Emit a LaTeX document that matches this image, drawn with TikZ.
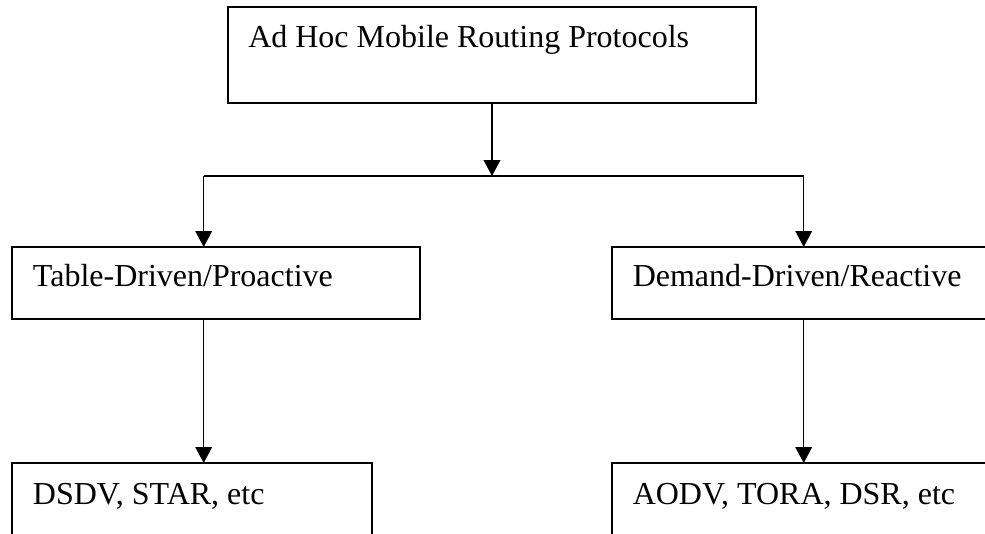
\documentclass[tikz,border=0pt]{standalone}
\usepackage{fontspec}
\setmainfont{Liberation Serif}
\usetikzlibrary{arrows.meta}
\begin{document}
\begin{tikzpicture}[x=0.75pt,y=-0.75pt,
  boxnode/.style={draw=black,line width=1.1pt,rectangle,inner sep=0pt,outer sep=0pt},
  txt/.style={anchor=base west,inner sep=0pt,font=\fontsize{24}{29}\selectfont},
  conn/.style={draw=black,line width=1.1pt},
  arr/.style={conn,-{Triangle[length=12pt,width=12.5pt]}}]
\useasboundingbox (0,0) rectangle (985,533);
\clip (0,0) rectangle (985,533);
\fill[white] (0,0) rectangle (985,533);
% boxes
\node[boxnode,minimum width=528*0.75pt,minimum height=96*0.75pt] (top) at (492,55) {};
\node[boxnode,minimum width=408*0.75pt,minimum height=72*0.75pt] (tbl) at (216,283) {};
\node[boxnode,minimum width=392*0.75pt,minimum height=72*0.75pt] (dem) at (808,283) {};
\node[boxnode,minimum width=360*0.75pt,minimum height=96*0.75pt] (dsdv) at (192,511) {};
\node[boxnode,minimum width=392*0.75pt,minimum height=96*0.75pt] (aodv) at (808,511) {};
% texts
\node[txt] (ttop) at (248,47) {Ad Hoc Mobile Routing Protocols};
\node[txt] (ttbl) at (32.7,286) {Table-Driven/Proactive};
\node[txt] (tdem) at (632.5,286) {Demand-Driven/Reactive};
\node[txt] (tdsdv) at (32.7,504) {DSDV, STAR, etc};
\node[txt] (taodv) at (632.5,504) {AODV, TORA, DSR, etc};
% connector coordinates
\coordinate (mid) at (492,176);
\coordinate (hl) at (203.7,176);
\coordinate (hr) at (803.7,176);
\draw[arr] (top.south) -- (mid);
\draw[conn] (hl) -- (hr);
\draw[arr] (hl) -- (hl |- tbl.north);
\draw[arr] (hr) -- (hr |- dem.north);
\draw[arr] (hl |- tbl.south) -- (hl |- dsdv.north);
\draw[arr] (hr |- dem.south) -- (hr |- aodv.north);
\end{tikzpicture}
\end{document}
